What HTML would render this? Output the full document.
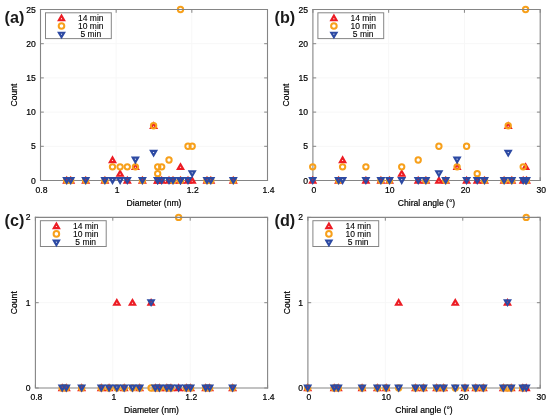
<!DOCTYPE html><html><head><meta charset="utf-8"><style>html,body{margin:0;padding:0;background:#fff;width:550px;height:419px;overflow:hidden}svg{display:block;filter:blur(0.35px)}text{font-family:"Liberation Sans",sans-serif}</style></head><body>
<svg width="550" height="419" viewBox="0 0 550 419">
<rect width="550" height="419" fill="#fff"/>
<line x1="116.17" y1="9.5" x2="116.17" y2="180.5" stroke="#f7f7f7" stroke-width="1"/>
<line x1="191.83" y1="9.5" x2="191.83" y2="180.5" stroke="#f7f7f7" stroke-width="1"/>
<line x1="40.5" y1="146.30" x2="267.5" y2="146.30" stroke="#f7f7f7" stroke-width="1"/>
<line x1="40.5" y1="112.10" x2="267.5" y2="112.10" stroke="#f7f7f7" stroke-width="1"/>
<line x1="40.5" y1="77.90" x2="267.5" y2="77.90" stroke="#f7f7f7" stroke-width="1"/>
<line x1="40.5" y1="43.70" x2="267.5" y2="43.70" stroke="#f7f7f7" stroke-width="1"/>
<path d="M40.5 9.5V180.5H267.5" fill="none" stroke="#858585" stroke-width="1.1" stroke-linecap="square"/>
<line x1="40.50" y1="180.5" x2="40.50" y2="177.2" stroke="#858585" stroke-width="1"/>
<line x1="116.17" y1="180.5" x2="116.17" y2="177.2" stroke="#858585" stroke-width="1"/>
<line x1="191.83" y1="180.5" x2="191.83" y2="177.2" stroke="#858585" stroke-width="1"/>
<line x1="267.50" y1="180.5" x2="267.50" y2="177.2" stroke="#858585" stroke-width="1"/>
<line x1="40.5" y1="180.50" x2="43.8" y2="180.50" stroke="#858585" stroke-width="1"/>
<line x1="40.5" y1="146.30" x2="43.8" y2="146.30" stroke="#858585" stroke-width="1"/>
<line x1="40.5" y1="112.10" x2="43.8" y2="112.10" stroke="#858585" stroke-width="1"/>
<line x1="40.5" y1="77.90" x2="43.8" y2="77.90" stroke="#858585" stroke-width="1"/>
<line x1="40.5" y1="43.70" x2="43.8" y2="43.70" stroke="#858585" stroke-width="1"/>
<line x1="40.5" y1="9.50" x2="43.8" y2="9.50" stroke="#858585" stroke-width="1"/>
<path d="M66.70 175.87L62.20 183.67L71.20 183.67ZM66.70 180.15L65.90 181.53L67.50 181.53Z" fill="#ec1c24" fill-rule="evenodd"/>
<path d="M70.70 175.87L66.20 183.67L75.20 183.67ZM70.70 180.15L69.90 181.53L71.50 181.53Z" fill="#ec1c24" fill-rule="evenodd"/>
<path d="M85.70 175.87L81.20 183.67L90.20 183.67ZM85.70 180.15L84.90 181.53L86.50 181.53Z" fill="#ec1c24" fill-rule="evenodd"/>
<path d="M104.90 175.87L100.40 183.67L109.40 183.67ZM104.90 180.15L104.10 181.53L105.70 181.53Z" fill="#ec1c24" fill-rule="evenodd"/>
<path d="M112.50 155.35L108.00 163.15L117.00 163.15ZM112.50 159.63L111.70 161.01L113.30 161.01Z" fill="#ec1c24" fill-rule="evenodd"/>
<path d="M120.10 169.03L115.60 176.83L124.60 176.83ZM120.10 173.31L119.30 174.69L120.90 174.69Z" fill="#ec1c24" fill-rule="evenodd"/>
<path d="M127.30 175.87L122.80 183.67L131.80 183.67ZM127.30 180.15L126.50 181.53L128.10 181.53Z" fill="#ec1c24" fill-rule="evenodd"/>
<path d="M135.40 162.19L130.90 169.99L139.90 169.99ZM135.40 166.47L134.60 167.85L136.20 167.85Z" fill="#ec1c24" fill-rule="evenodd"/>
<path d="M142.40 175.87L137.90 183.67L146.90 183.67ZM142.40 180.15L141.60 181.53L143.20 181.53Z" fill="#ec1c24" fill-rule="evenodd"/>
<path d="M153.60 121.15L149.10 128.95L158.10 128.95ZM153.60 125.43L152.80 126.81L154.40 126.81Z" fill="#ec1c24" fill-rule="evenodd"/>
<path d="M157.70 175.87L153.20 183.67L162.20 183.67ZM157.70 180.15L156.90 181.53L158.50 181.53Z" fill="#ec1c24" fill-rule="evenodd"/>
<path d="M161.70 175.87L157.20 183.67L166.20 183.67ZM161.70 180.15L160.90 181.53L162.50 181.53Z" fill="#ec1c24" fill-rule="evenodd"/>
<path d="M169.00 175.87L164.50 183.67L173.50 183.67ZM169.00 180.15L168.20 181.53L169.80 181.53Z" fill="#ec1c24" fill-rule="evenodd"/>
<path d="M173.00 175.87L168.50 183.67L177.50 183.67ZM173.00 180.15L172.20 181.53L173.80 181.53Z" fill="#ec1c24" fill-rule="evenodd"/>
<path d="M180.50 162.19L176.00 169.99L185.00 169.99ZM180.50 166.47L179.70 167.85L181.30 167.85Z" fill="#ec1c24" fill-rule="evenodd"/>
<path d="M188.00 175.87L183.50 183.67L192.50 183.67ZM188.00 180.15L187.20 181.53L188.80 181.53Z" fill="#ec1c24" fill-rule="evenodd"/>
<path d="M192.20 175.87L187.70 183.67L196.70 183.67ZM192.20 180.15L191.40 181.53L193.00 181.53Z" fill="#ec1c24" fill-rule="evenodd"/>
<path d="M207.00 175.87L202.50 183.67L211.50 183.67ZM207.00 180.15L206.20 181.53L207.80 181.53Z" fill="#ec1c24" fill-rule="evenodd"/>
<path d="M210.80 175.87L206.30 183.67L215.30 183.67ZM210.80 180.15L210.00 181.53L211.60 181.53Z" fill="#ec1c24" fill-rule="evenodd"/>
<path d="M233.30 175.87L228.80 183.67L237.80 183.67ZM233.30 180.15L232.50 181.53L234.10 181.53Z" fill="#ec1c24" fill-rule="evenodd"/>
<path d="M157.70 175.87L153.20 183.67L162.20 183.67ZM157.70 180.15L156.90 181.53L158.50 181.53Z" fill="#ec1c24" fill-rule="evenodd"/>
<path d="M180.50 175.87L176.00 183.67L185.00 183.67ZM180.50 180.15L179.70 181.53L181.30 181.53Z" fill="#ec1c24" fill-rule="evenodd"/>
<circle cx="66.70" cy="180.50" r="2.68" fill="none" stroke="#f7a01b" stroke-width="2.0"/>
<circle cx="70.70" cy="180.50" r="2.68" fill="none" stroke="#f7a01b" stroke-width="2.0"/>
<circle cx="85.70" cy="180.50" r="2.68" fill="none" stroke="#f7a01b" stroke-width="2.0"/>
<circle cx="104.90" cy="180.50" r="2.68" fill="none" stroke="#f7a01b" stroke-width="2.0"/>
<circle cx="112.50" cy="166.82" r="2.68" fill="none" stroke="#f7a01b" stroke-width="2.0"/>
<circle cx="120.10" cy="166.82" r="2.68" fill="none" stroke="#f7a01b" stroke-width="2.0"/>
<circle cx="127.30" cy="166.82" r="2.68" fill="none" stroke="#f7a01b" stroke-width="2.0"/>
<circle cx="135.40" cy="166.82" r="2.68" fill="none" stroke="#f7a01b" stroke-width="2.0"/>
<circle cx="142.40" cy="180.50" r="2.68" fill="none" stroke="#f7a01b" stroke-width="2.0"/>
<circle cx="153.60" cy="125.78" r="2.68" fill="none" stroke="#f7a01b" stroke-width="2.0"/>
<circle cx="157.70" cy="166.82" r="2.68" fill="none" stroke="#f7a01b" stroke-width="2.0"/>
<circle cx="161.70" cy="166.82" r="2.68" fill="none" stroke="#f7a01b" stroke-width="2.0"/>
<circle cx="169.00" cy="159.98" r="2.68" fill="none" stroke="#f7a01b" stroke-width="2.0"/>
<circle cx="173.00" cy="180.50" r="2.68" fill="none" stroke="#f7a01b" stroke-width="2.0"/>
<circle cx="180.50" cy="9.50" r="2.68" fill="none" stroke="#f7a01b" stroke-width="2.0"/>
<circle cx="188.00" cy="146.30" r="2.68" fill="none" stroke="#f7a01b" stroke-width="2.0"/>
<circle cx="192.20" cy="146.30" r="2.68" fill="none" stroke="#f7a01b" stroke-width="2.0"/>
<circle cx="207.00" cy="180.50" r="2.68" fill="none" stroke="#f7a01b" stroke-width="2.0"/>
<circle cx="210.80" cy="180.50" r="2.68" fill="none" stroke="#f7a01b" stroke-width="2.0"/>
<circle cx="233.30" cy="180.50" r="2.68" fill="none" stroke="#f7a01b" stroke-width="2.0"/>
<circle cx="157.70" cy="173.66" r="2.68" fill="none" stroke="#f7a01b" stroke-width="2.0"/>
<circle cx="180.50" cy="180.50" r="2.68" fill="none" stroke="#f7a01b" stroke-width="2.0"/>
<path d="M66.70 184.90L62.20 177.10L71.20 177.10ZM66.70 180.62L65.90 179.24L67.50 179.24Z" fill="#2d4aa3" fill-rule="evenodd"/>
<path d="M70.70 184.90L66.20 177.10L75.20 177.10ZM70.70 180.62L69.90 179.24L71.50 179.24Z" fill="#2d4aa3" fill-rule="evenodd"/>
<path d="M85.70 184.90L81.20 177.10L90.20 177.10ZM85.70 180.62L84.90 179.24L86.50 179.24Z" fill="#2d4aa3" fill-rule="evenodd"/>
<path d="M104.90 184.90L100.40 177.10L109.40 177.10ZM104.90 180.62L104.10 179.24L105.70 179.24Z" fill="#2d4aa3" fill-rule="evenodd"/>
<path d="M112.50 184.90L108.00 177.10L117.00 177.10ZM112.50 180.62L111.70 179.24L113.30 179.24Z" fill="#2d4aa3" fill-rule="evenodd"/>
<path d="M120.10 184.90L115.60 177.10L124.60 177.10ZM120.10 180.62L119.30 179.24L120.90 179.24Z" fill="#2d4aa3" fill-rule="evenodd"/>
<path d="M127.30 184.90L122.80 177.10L131.80 177.10ZM127.30 180.62L126.50 179.24L128.10 179.24Z" fill="#2d4aa3" fill-rule="evenodd"/>
<path d="M135.40 164.38L130.90 156.58L139.90 156.58ZM135.40 160.10L134.60 158.72L136.20 158.72Z" fill="#2d4aa3" fill-rule="evenodd"/>
<path d="M142.40 184.90L137.90 177.10L146.90 177.10ZM142.40 180.62L141.60 179.24L143.20 179.24Z" fill="#2d4aa3" fill-rule="evenodd"/>
<path d="M153.60 157.54L149.10 149.74L158.10 149.74ZM153.60 153.26L152.80 151.88L154.40 151.88Z" fill="#2d4aa3" fill-rule="evenodd"/>
<path d="M157.70 184.90L153.20 177.10L162.20 177.10ZM157.70 180.62L156.90 179.24L158.50 179.24Z" fill="#2d4aa3" fill-rule="evenodd"/>
<path d="M161.70 184.90L157.20 177.10L166.20 177.10ZM161.70 180.62L160.90 179.24L162.50 179.24Z" fill="#2d4aa3" fill-rule="evenodd"/>
<path d="M169.00 184.90L164.50 177.10L173.50 177.10ZM169.00 180.62L168.20 179.24L169.80 179.24Z" fill="#2d4aa3" fill-rule="evenodd"/>
<path d="M173.00 184.90L168.50 177.10L177.50 177.10ZM173.00 180.62L172.20 179.24L173.80 179.24Z" fill="#2d4aa3" fill-rule="evenodd"/>
<path d="M180.50 184.90L176.00 177.10L185.00 177.10ZM180.50 180.62L179.70 179.24L181.30 179.24Z" fill="#2d4aa3" fill-rule="evenodd"/>
<path d="M188.00 184.90L183.50 177.10L192.50 177.10ZM188.00 180.62L187.20 179.24L188.80 179.24Z" fill="#2d4aa3" fill-rule="evenodd"/>
<path d="M192.20 178.06L187.70 170.26L196.70 170.26ZM192.20 173.78L191.40 172.40L193.00 172.40Z" fill="#2d4aa3" fill-rule="evenodd"/>
<path d="M207.00 184.90L202.50 177.10L211.50 177.10ZM207.00 180.62L206.20 179.24L207.80 179.24Z" fill="#2d4aa3" fill-rule="evenodd"/>
<path d="M210.80 184.90L206.30 177.10L215.30 177.10ZM210.80 180.62L210.00 179.24L211.60 179.24Z" fill="#2d4aa3" fill-rule="evenodd"/>
<path d="M233.30 184.90L228.80 177.10L237.80 177.10ZM233.30 180.62L232.50 179.24L234.10 179.24Z" fill="#2d4aa3" fill-rule="evenodd"/>
<path d="M157.70 184.90L153.20 177.10L162.20 177.10ZM157.70 180.62L156.90 179.24L158.50 179.24Z" fill="#2d4aa3" fill-rule="evenodd"/>
<path d="M180.50 184.90L176.00 177.10L185.00 177.10ZM180.50 180.62L179.70 179.24L181.30 179.24Z" fill="#2d4aa3" fill-rule="evenodd"/>
<path d="M40.5 9.5H267.5V180.5" fill="none" stroke="#858585" stroke-width="1.1" stroke-linecap="square"/>
<line x1="40.50" y1="9.5" x2="40.50" y2="12.8" stroke="#858585" stroke-width="1"/>
<line x1="116.17" y1="9.5" x2="116.17" y2="12.8" stroke="#858585" stroke-width="1"/>
<line x1="191.83" y1="9.5" x2="191.83" y2="12.8" stroke="#858585" stroke-width="1"/>
<line x1="267.50" y1="9.5" x2="267.50" y2="12.8" stroke="#858585" stroke-width="1"/>
<line x1="267.5" y1="180.50" x2="264.2" y2="180.50" stroke="#858585" stroke-width="1"/>
<line x1="267.5" y1="146.30" x2="264.2" y2="146.30" stroke="#858585" stroke-width="1"/>
<line x1="267.5" y1="112.10" x2="264.2" y2="112.10" stroke="#858585" stroke-width="1"/>
<line x1="267.5" y1="77.90" x2="264.2" y2="77.90" stroke="#858585" stroke-width="1"/>
<line x1="267.5" y1="43.70" x2="264.2" y2="43.70" stroke="#858585" stroke-width="1"/>
<line x1="267.5" y1="9.50" x2="264.2" y2="9.50" stroke="#858585" stroke-width="1"/>
<text x="41.50" y="192.50" font-size="8.6" text-anchor="middle" font-weight="normal" fill="#000000" stroke="#000000" stroke-width="0.2">0.8</text>
<text x="117.17" y="192.50" font-size="8.6" text-anchor="middle" font-weight="normal" fill="#000000" stroke="#000000" stroke-width="0.2">1</text>
<text x="192.83" y="192.50" font-size="8.6" text-anchor="middle" font-weight="normal" fill="#000000" stroke="#000000" stroke-width="0.2">1.2</text>
<text x="268.50" y="192.50" font-size="8.6" text-anchor="middle" font-weight="normal" fill="#000000" stroke="#000000" stroke-width="0.2">1.4</text>
<text x="35.70" y="183.50" font-size="8.6" text-anchor="end" font-weight="normal" fill="#000000" stroke="#000000" stroke-width="0.2">0</text>
<text x="35.70" y="149.30" font-size="8.6" text-anchor="end" font-weight="normal" fill="#000000" stroke="#000000" stroke-width="0.2">5</text>
<text x="35.70" y="115.10" font-size="8.6" text-anchor="end" font-weight="normal" fill="#000000" stroke="#000000" stroke-width="0.2">10</text>
<text x="35.70" y="80.90" font-size="8.6" text-anchor="end" font-weight="normal" fill="#000000" stroke="#000000" stroke-width="0.2">15</text>
<text x="35.70" y="46.70" font-size="8.6" text-anchor="end" font-weight="normal" fill="#000000" stroke="#000000" stroke-width="0.2">20</text>
<text x="35.70" y="12.50" font-size="8.6" text-anchor="end" font-weight="normal" fill="#000000" stroke="#000000" stroke-width="0.2">25</text>
<text x="154.00" y="205.70" font-size="8.6" text-anchor="middle" font-weight="normal" fill="#000000" stroke="#000000" stroke-width="0.2">Diameter (nm)</text>
<text x="0" y="0" font-size="8.6" text-anchor="middle" fill="#000000" stroke="#000000" stroke-width="0.2" transform="translate(16.90,95.00) rotate(-90)">Count</text>
<text x="4.50" y="22.80" font-size="16.2" text-anchor="start" font-weight="bold" fill="#1a1a1a" stroke="#1a1a1a" stroke-width="0">(a)</text>
<rect x="45.50" y="12.80" width="65.8" height="25.8" fill="#fff" stroke="#858585" stroke-width="1"/>
<path d="M61.50 13.56L57.05 21.27L65.95 21.27ZM61.50 17.78L60.70 19.16L62.30 19.16Z" fill="#ec1c24" fill-rule="evenodd"/>
<circle cx="61.50" cy="26.00" r="2.8" fill="none" stroke="#f7a01b" stroke-width="2.0"/>
<path d="M61.50 39.34L57.05 31.63L65.95 31.63ZM61.50 35.12L60.70 33.74L62.30 33.74Z" fill="#2d4aa3" fill-rule="evenodd"/>
<text x="90.80" y="20.80" font-size="8.5" text-anchor="middle" font-weight="normal" fill="#000000" stroke="#000000" stroke-width="0.1">14 min</text>
<text x="90.80" y="29.10" font-size="8.5" text-anchor="middle" font-weight="normal" fill="#000000" stroke="#000000" stroke-width="0.1">10 min</text>
<text x="90.80" y="37.40" font-size="8.5" text-anchor="middle" font-weight="normal" fill="#000000" stroke="#000000" stroke-width="0.1">5 min</text>
<line x1="388.67" y1="9.5" x2="388.67" y2="180.5" stroke="#f7f7f7" stroke-width="1"/>
<line x1="464.43" y1="9.5" x2="464.43" y2="180.5" stroke="#f7f7f7" stroke-width="1"/>
<line x1="312.9" y1="146.30" x2="540.2" y2="146.30" stroke="#f7f7f7" stroke-width="1"/>
<line x1="312.9" y1="112.10" x2="540.2" y2="112.10" stroke="#f7f7f7" stroke-width="1"/>
<line x1="312.9" y1="77.90" x2="540.2" y2="77.90" stroke="#f7f7f7" stroke-width="1"/>
<line x1="312.9" y1="43.70" x2="540.2" y2="43.70" stroke="#f7f7f7" stroke-width="1"/>
<path d="M312.9 9.5V180.5H540.2" fill="none" stroke="#858585" stroke-width="1.1" stroke-linecap="square"/>
<line x1="312.90" y1="180.5" x2="312.90" y2="177.2" stroke="#858585" stroke-width="1"/>
<line x1="388.67" y1="180.5" x2="388.67" y2="177.2" stroke="#858585" stroke-width="1"/>
<line x1="464.43" y1="180.5" x2="464.43" y2="177.2" stroke="#858585" stroke-width="1"/>
<line x1="540.20" y1="180.5" x2="540.20" y2="177.2" stroke="#858585" stroke-width="1"/>
<line x1="312.9" y1="180.50" x2="316.2" y2="180.50" stroke="#858585" stroke-width="1"/>
<line x1="312.9" y1="146.30" x2="316.2" y2="146.30" stroke="#858585" stroke-width="1"/>
<line x1="312.9" y1="112.10" x2="316.2" y2="112.10" stroke="#858585" stroke-width="1"/>
<line x1="312.9" y1="77.90" x2="316.2" y2="77.90" stroke="#858585" stroke-width="1"/>
<line x1="312.9" y1="43.70" x2="316.2" y2="43.70" stroke="#858585" stroke-width="1"/>
<line x1="312.9" y1="9.50" x2="316.2" y2="9.50" stroke="#858585" stroke-width="1"/>
<path d="M312.70 175.87L308.20 183.67L317.20 183.67ZM312.70 180.15L311.90 181.53L313.50 181.53Z" fill="#ec1c24" fill-rule="evenodd"/>
<path d="M338.60 175.87L334.10 183.67L343.10 183.67ZM338.60 180.15L337.80 181.53L339.40 181.53Z" fill="#ec1c24" fill-rule="evenodd"/>
<path d="M342.60 155.35L338.10 163.15L347.10 163.15ZM342.60 159.63L341.80 161.01L343.40 161.01Z" fill="#ec1c24" fill-rule="evenodd"/>
<path d="M365.90 175.87L361.40 183.67L370.40 183.67ZM365.90 180.15L365.10 181.53L366.70 181.53Z" fill="#ec1c24" fill-rule="evenodd"/>
<path d="M380.90 175.87L376.40 183.67L385.40 183.67ZM380.90 180.15L380.10 181.53L381.70 181.53Z" fill="#ec1c24" fill-rule="evenodd"/>
<path d="M389.50 175.87L385.00 183.67L394.00 183.67ZM389.50 180.15L388.70 181.53L390.30 181.53Z" fill="#ec1c24" fill-rule="evenodd"/>
<path d="M401.70 169.03L397.20 176.83L406.20 176.83ZM401.70 173.31L400.90 174.69L402.50 174.69Z" fill="#ec1c24" fill-rule="evenodd"/>
<path d="M418.20 175.87L413.70 183.67L422.70 183.67ZM418.20 180.15L417.40 181.53L419.00 181.53Z" fill="#ec1c24" fill-rule="evenodd"/>
<path d="M425.90 175.87L421.40 183.67L430.40 183.67ZM425.90 180.15L425.10 181.53L426.70 181.53Z" fill="#ec1c24" fill-rule="evenodd"/>
<path d="M438.90 175.87L434.40 183.67L443.40 183.67ZM438.90 180.15L438.10 181.53L439.70 181.53Z" fill="#ec1c24" fill-rule="evenodd"/>
<path d="M445.70 175.87L441.20 183.67L450.20 183.67ZM445.70 180.15L444.90 181.53L446.50 181.53Z" fill="#ec1c24" fill-rule="evenodd"/>
<path d="M457.10 162.19L452.60 169.99L461.60 169.99ZM457.10 166.47L456.30 167.85L457.90 167.85Z" fill="#ec1c24" fill-rule="evenodd"/>
<path d="M466.60 175.87L462.10 183.67L471.10 183.67ZM466.60 180.15L465.80 181.53L467.40 181.53Z" fill="#ec1c24" fill-rule="evenodd"/>
<path d="M477.20 175.87L472.70 183.67L481.70 183.67ZM477.20 180.15L476.40 181.53L478.00 181.53Z" fill="#ec1c24" fill-rule="evenodd"/>
<path d="M484.50 175.87L480.00 183.67L489.00 183.67ZM484.50 180.15L483.70 181.53L485.30 181.53Z" fill="#ec1c24" fill-rule="evenodd"/>
<path d="M504.10 175.87L499.60 183.67L508.60 183.67ZM504.10 180.15L503.30 181.53L504.90 181.53Z" fill="#ec1c24" fill-rule="evenodd"/>
<path d="M508.20 121.15L503.70 128.95L512.70 128.95ZM508.20 125.43L507.40 126.81L509.00 126.81Z" fill="#ec1c24" fill-rule="evenodd"/>
<path d="M511.80 175.87L507.30 183.67L516.30 183.67ZM511.80 180.15L511.00 181.53L512.60 181.53Z" fill="#ec1c24" fill-rule="evenodd"/>
<path d="M523.20 175.87L518.70 183.67L527.70 183.67ZM523.20 180.15L522.40 181.53L524.00 181.53Z" fill="#ec1c24" fill-rule="evenodd"/>
<path d="M526.50 175.87L522.00 183.67L531.00 183.67ZM526.50 180.15L525.70 181.53L527.30 181.53Z" fill="#ec1c24" fill-rule="evenodd"/>
<path d="M525.60 162.19L521.10 169.99L530.10 169.99ZM525.60 166.47L524.80 167.85L526.40 167.85Z" fill="#ec1c24" fill-rule="evenodd"/>
<circle cx="312.70" cy="166.82" r="2.68" fill="none" stroke="#f7a01b" stroke-width="2.0"/>
<circle cx="338.60" cy="180.50" r="2.68" fill="none" stroke="#f7a01b" stroke-width="2.0"/>
<circle cx="342.60" cy="166.82" r="2.68" fill="none" stroke="#f7a01b" stroke-width="2.0"/>
<circle cx="365.90" cy="166.82" r="2.68" fill="none" stroke="#f7a01b" stroke-width="2.0"/>
<circle cx="380.90" cy="180.50" r="2.68" fill="none" stroke="#f7a01b" stroke-width="2.0"/>
<circle cx="389.50" cy="180.50" r="2.68" fill="none" stroke="#f7a01b" stroke-width="2.0"/>
<circle cx="401.70" cy="166.82" r="2.68" fill="none" stroke="#f7a01b" stroke-width="2.0"/>
<circle cx="418.20" cy="159.98" r="2.68" fill="none" stroke="#f7a01b" stroke-width="2.0"/>
<circle cx="425.90" cy="180.50" r="2.68" fill="none" stroke="#f7a01b" stroke-width="2.0"/>
<circle cx="438.90" cy="146.30" r="2.68" fill="none" stroke="#f7a01b" stroke-width="2.0"/>
<circle cx="445.70" cy="180.50" r="2.68" fill="none" stroke="#f7a01b" stroke-width="2.0"/>
<circle cx="457.10" cy="166.82" r="2.68" fill="none" stroke="#f7a01b" stroke-width="2.0"/>
<circle cx="466.60" cy="146.30" r="2.68" fill="none" stroke="#f7a01b" stroke-width="2.0"/>
<circle cx="477.20" cy="173.66" r="2.68" fill="none" stroke="#f7a01b" stroke-width="2.0"/>
<circle cx="484.50" cy="180.50" r="2.68" fill="none" stroke="#f7a01b" stroke-width="2.0"/>
<circle cx="504.10" cy="180.50" r="2.68" fill="none" stroke="#f7a01b" stroke-width="2.0"/>
<circle cx="508.20" cy="125.78" r="2.68" fill="none" stroke="#f7a01b" stroke-width="2.0"/>
<circle cx="511.80" cy="180.50" r="2.68" fill="none" stroke="#f7a01b" stroke-width="2.0"/>
<circle cx="523.20" cy="166.82" r="2.68" fill="none" stroke="#f7a01b" stroke-width="2.0"/>
<circle cx="526.50" cy="180.50" r="2.68" fill="none" stroke="#f7a01b" stroke-width="2.0"/>
<circle cx="525.60" cy="9.50" r="2.68" fill="none" stroke="#f7a01b" stroke-width="2.0"/>
<path d="M312.70 184.90L308.20 177.10L317.20 177.10ZM312.70 180.62L311.90 179.24L313.50 179.24Z" fill="#2d4aa3" fill-rule="evenodd"/>
<path d="M338.60 184.90L334.10 177.10L343.10 177.10ZM338.60 180.62L337.80 179.24L339.40 179.24Z" fill="#2d4aa3" fill-rule="evenodd"/>
<path d="M342.60 184.90L338.10 177.10L347.10 177.10ZM342.60 180.62L341.80 179.24L343.40 179.24Z" fill="#2d4aa3" fill-rule="evenodd"/>
<path d="M365.90 184.90L361.40 177.10L370.40 177.10ZM365.90 180.62L365.10 179.24L366.70 179.24Z" fill="#2d4aa3" fill-rule="evenodd"/>
<path d="M380.90 184.90L376.40 177.10L385.40 177.10ZM380.90 180.62L380.10 179.24L381.70 179.24Z" fill="#2d4aa3" fill-rule="evenodd"/>
<path d="M389.50 184.90L385.00 177.10L394.00 177.10ZM389.50 180.62L388.70 179.24L390.30 179.24Z" fill="#2d4aa3" fill-rule="evenodd"/>
<path d="M401.70 184.90L397.20 177.10L406.20 177.10ZM401.70 180.62L400.90 179.24L402.50 179.24Z" fill="#2d4aa3" fill-rule="evenodd"/>
<path d="M418.20 184.90L413.70 177.10L422.70 177.10ZM418.20 180.62L417.40 179.24L419.00 179.24Z" fill="#2d4aa3" fill-rule="evenodd"/>
<path d="M425.90 184.90L421.40 177.10L430.40 177.10ZM425.90 180.62L425.10 179.24L426.70 179.24Z" fill="#2d4aa3" fill-rule="evenodd"/>
<path d="M438.90 178.06L434.40 170.26L443.40 170.26ZM438.90 173.78L438.10 172.40L439.70 172.40Z" fill="#2d4aa3" fill-rule="evenodd"/>
<path d="M445.70 184.90L441.20 177.10L450.20 177.10ZM445.70 180.62L444.90 179.24L446.50 179.24Z" fill="#2d4aa3" fill-rule="evenodd"/>
<path d="M457.10 164.38L452.60 156.58L461.60 156.58ZM457.10 160.10L456.30 158.72L457.90 158.72Z" fill="#2d4aa3" fill-rule="evenodd"/>
<path d="M466.60 184.90L462.10 177.10L471.10 177.10ZM466.60 180.62L465.80 179.24L467.40 179.24Z" fill="#2d4aa3" fill-rule="evenodd"/>
<path d="M477.20 184.90L472.70 177.10L481.70 177.10ZM477.20 180.62L476.40 179.24L478.00 179.24Z" fill="#2d4aa3" fill-rule="evenodd"/>
<path d="M484.50 184.90L480.00 177.10L489.00 177.10ZM484.50 180.62L483.70 179.24L485.30 179.24Z" fill="#2d4aa3" fill-rule="evenodd"/>
<path d="M504.10 184.90L499.60 177.10L508.60 177.10ZM504.10 180.62L503.30 179.24L504.90 179.24Z" fill="#2d4aa3" fill-rule="evenodd"/>
<path d="M508.20 157.54L503.70 149.74L512.70 149.74ZM508.20 153.26L507.40 151.88L509.00 151.88Z" fill="#2d4aa3" fill-rule="evenodd"/>
<path d="M511.80 184.90L507.30 177.10L516.30 177.10ZM511.80 180.62L511.00 179.24L512.60 179.24Z" fill="#2d4aa3" fill-rule="evenodd"/>
<path d="M523.20 184.90L518.70 177.10L527.70 177.10ZM523.20 180.62L522.40 179.24L524.00 179.24Z" fill="#2d4aa3" fill-rule="evenodd"/>
<path d="M526.50 184.90L522.00 177.10L531.00 177.10ZM526.50 180.62L525.70 179.24L527.30 179.24Z" fill="#2d4aa3" fill-rule="evenodd"/>
<path d="M525.60 184.90L521.10 177.10L530.10 177.10ZM525.60 180.62L524.80 179.24L526.40 179.24Z" fill="#2d4aa3" fill-rule="evenodd"/>
<path d="M312.9 9.5H540.2V180.5" fill="none" stroke="#858585" stroke-width="1.1" stroke-linecap="square"/>
<line x1="312.90" y1="9.5" x2="312.90" y2="12.8" stroke="#858585" stroke-width="1"/>
<line x1="388.67" y1="9.5" x2="388.67" y2="12.8" stroke="#858585" stroke-width="1"/>
<line x1="464.43" y1="9.5" x2="464.43" y2="12.8" stroke="#858585" stroke-width="1"/>
<line x1="540.20" y1="9.5" x2="540.20" y2="12.8" stroke="#858585" stroke-width="1"/>
<line x1="540.2" y1="180.50" x2="536.9000000000001" y2="180.50" stroke="#858585" stroke-width="1"/>
<line x1="540.2" y1="146.30" x2="536.9000000000001" y2="146.30" stroke="#858585" stroke-width="1"/>
<line x1="540.2" y1="112.10" x2="536.9000000000001" y2="112.10" stroke="#858585" stroke-width="1"/>
<line x1="540.2" y1="77.90" x2="536.9000000000001" y2="77.90" stroke="#858585" stroke-width="1"/>
<line x1="540.2" y1="43.70" x2="536.9000000000001" y2="43.70" stroke="#858585" stroke-width="1"/>
<line x1="540.2" y1="9.50" x2="536.9000000000001" y2="9.50" stroke="#858585" stroke-width="1"/>
<text x="313.90" y="192.50" font-size="8.6" text-anchor="middle" font-weight="normal" fill="#000000" stroke="#000000" stroke-width="0.2">0</text>
<text x="389.67" y="192.50" font-size="8.6" text-anchor="middle" font-weight="normal" fill="#000000" stroke="#000000" stroke-width="0.2">10</text>
<text x="465.43" y="192.50" font-size="8.6" text-anchor="middle" font-weight="normal" fill="#000000" stroke="#000000" stroke-width="0.2">20</text>
<text x="541.20" y="192.50" font-size="8.6" text-anchor="middle" font-weight="normal" fill="#000000" stroke="#000000" stroke-width="0.2">30</text>
<text x="308.10" y="183.50" font-size="8.6" text-anchor="end" font-weight="normal" fill="#000000" stroke="#000000" stroke-width="0.2">0</text>
<text x="308.10" y="149.30" font-size="8.6" text-anchor="end" font-weight="normal" fill="#000000" stroke="#000000" stroke-width="0.2">5</text>
<text x="308.10" y="115.10" font-size="8.6" text-anchor="end" font-weight="normal" fill="#000000" stroke="#000000" stroke-width="0.2">10</text>
<text x="308.10" y="80.90" font-size="8.6" text-anchor="end" font-weight="normal" fill="#000000" stroke="#000000" stroke-width="0.2">15</text>
<text x="308.10" y="46.70" font-size="8.6" text-anchor="end" font-weight="normal" fill="#000000" stroke="#000000" stroke-width="0.2">20</text>
<text x="308.10" y="12.50" font-size="8.6" text-anchor="end" font-weight="normal" fill="#000000" stroke="#000000" stroke-width="0.2">25</text>
<text x="426.55" y="205.70" font-size="8.6" text-anchor="middle" font-weight="normal" fill="#000000" stroke="#000000" stroke-width="0.2">Chiral angle (°)</text>
<text x="0" y="0" font-size="8.6" text-anchor="middle" fill="#000000" stroke="#000000" stroke-width="0.2" transform="translate(289.30,95.00) rotate(-90)">Count</text>
<text x="274.50" y="22.80" font-size="16.2" text-anchor="start" font-weight="bold" fill="#1a1a1a" stroke="#1a1a1a" stroke-width="0">(b)</text>
<rect x="317.90" y="12.80" width="65.8" height="25.8" fill="#fff" stroke="#858585" stroke-width="1"/>
<path d="M333.90 13.56L329.45 21.27L338.35 21.27ZM333.90 17.78L333.10 19.16L334.70 19.16Z" fill="#ec1c24" fill-rule="evenodd"/>
<circle cx="333.90" cy="26.00" r="2.8" fill="none" stroke="#f7a01b" stroke-width="2.0"/>
<path d="M333.90 39.34L329.45 31.63L338.35 31.63ZM333.90 35.12L333.10 33.74L334.70 33.74Z" fill="#2d4aa3" fill-rule="evenodd"/>
<text x="363.20" y="20.80" font-size="8.5" text-anchor="middle" font-weight="normal" fill="#000000" stroke="#000000" stroke-width="0.1">14 min</text>
<text x="363.20" y="29.10" font-size="8.5" text-anchor="middle" font-weight="normal" fill="#000000" stroke="#000000" stroke-width="0.1">10 min</text>
<text x="363.20" y="37.40" font-size="8.5" text-anchor="middle" font-weight="normal" fill="#000000" stroke="#000000" stroke-width="0.1">5 min</text>
<line x1="112.80" y1="217.4" x2="112.80" y2="388.0" stroke="#f7f7f7" stroke-width="1"/>
<line x1="190.20" y1="217.4" x2="190.20" y2="388.0" stroke="#f7f7f7" stroke-width="1"/>
<line x1="35.4" y1="302.70" x2="267.6" y2="302.70" stroke="#f7f7f7" stroke-width="1"/>
<path d="M35.4 217.4V388.0H267.6" fill="none" stroke="#858585" stroke-width="1.1" stroke-linecap="square"/>
<line x1="35.40" y1="388.0" x2="35.40" y2="384.7" stroke="#858585" stroke-width="1"/>
<line x1="112.80" y1="388.0" x2="112.80" y2="384.7" stroke="#858585" stroke-width="1"/>
<line x1="190.20" y1="388.0" x2="190.20" y2="384.7" stroke="#858585" stroke-width="1"/>
<line x1="267.60" y1="388.0" x2="267.60" y2="384.7" stroke="#858585" stroke-width="1"/>
<line x1="35.4" y1="388.00" x2="38.699999999999996" y2="388.00" stroke="#858585" stroke-width="1"/>
<line x1="35.4" y1="302.70" x2="38.699999999999996" y2="302.70" stroke="#858585" stroke-width="1"/>
<line x1="35.4" y1="217.40" x2="38.699999999999996" y2="217.40" stroke="#858585" stroke-width="1"/>
<path d="M62.20 383.37L57.70 391.17L66.70 391.17ZM62.20 387.65L61.40 389.03L63.00 389.03Z" fill="#ec1c24" fill-rule="evenodd"/>
<path d="M66.29 383.37L61.79 391.17L70.79 391.17ZM66.29 387.65L65.49 389.03L67.09 389.03Z" fill="#ec1c24" fill-rule="evenodd"/>
<path d="M81.64 383.37L77.14 391.17L86.14 391.17ZM81.64 387.65L80.84 389.03L82.44 389.03Z" fill="#ec1c24" fill-rule="evenodd"/>
<path d="M101.28 383.37L96.78 391.17L105.78 391.17ZM101.28 387.65L100.48 389.03L102.08 389.03Z" fill="#ec1c24" fill-rule="evenodd"/>
<path d="M109.05 383.37L104.55 391.17L113.55 391.17ZM109.05 387.65L108.25 389.03L109.85 389.03Z" fill="#ec1c24" fill-rule="evenodd"/>
<path d="M116.82 298.07L112.32 305.87L121.32 305.87ZM116.82 302.35L116.02 303.73L117.62 303.73Z" fill="#ec1c24" fill-rule="evenodd"/>
<path d="M124.19 383.37L119.69 391.17L128.69 391.17ZM124.19 387.65L123.39 389.03L124.99 389.03Z" fill="#ec1c24" fill-rule="evenodd"/>
<path d="M132.47 298.07L127.97 305.87L136.97 305.87ZM132.47 302.35L131.67 303.73L133.27 303.73Z" fill="#ec1c24" fill-rule="evenodd"/>
<path d="M139.63 383.37L135.13 391.17L144.13 391.17ZM139.63 387.65L138.83 389.03L140.43 389.03Z" fill="#ec1c24" fill-rule="evenodd"/>
<path d="M151.09 298.07L146.59 305.87L155.59 305.87ZM151.09 302.35L150.29 303.73L151.89 303.73Z" fill="#ec1c24" fill-rule="evenodd"/>
<path d="M155.28 383.37L150.78 391.17L159.78 391.17ZM155.28 387.65L154.48 389.03L156.08 389.03Z" fill="#ec1c24" fill-rule="evenodd"/>
<path d="M159.38 383.37L154.88 391.17L163.88 391.17ZM159.38 387.65L158.58 389.03L160.18 389.03Z" fill="#ec1c24" fill-rule="evenodd"/>
<path d="M166.84 383.37L162.34 391.17L171.34 391.17ZM166.84 387.65L166.04 389.03L167.64 389.03Z" fill="#ec1c24" fill-rule="evenodd"/>
<path d="M170.94 383.37L166.44 391.17L175.44 391.17ZM170.94 387.65L170.14 389.03L171.74 389.03Z" fill="#ec1c24" fill-rule="evenodd"/>
<path d="M178.61 383.37L174.11 391.17L183.11 391.17ZM178.61 387.65L177.81 389.03L179.41 389.03Z" fill="#ec1c24" fill-rule="evenodd"/>
<path d="M186.28 383.37L181.78 391.17L190.78 391.17ZM186.28 387.65L185.48 389.03L187.08 389.03Z" fill="#ec1c24" fill-rule="evenodd"/>
<path d="M190.58 383.37L186.08 391.17L195.08 391.17ZM190.58 387.65L189.78 389.03L191.38 389.03Z" fill="#ec1c24" fill-rule="evenodd"/>
<path d="M205.71 383.37L201.21 391.17L210.21 391.17ZM205.71 387.65L204.91 389.03L206.51 389.03Z" fill="#ec1c24" fill-rule="evenodd"/>
<path d="M209.60 383.37L205.10 391.17L214.10 391.17ZM209.60 387.65L208.80 389.03L210.40 389.03Z" fill="#ec1c24" fill-rule="evenodd"/>
<path d="M232.62 383.37L228.12 391.17L237.12 391.17ZM232.62 387.65L231.82 389.03L233.42 389.03Z" fill="#ec1c24" fill-rule="evenodd"/>
<circle cx="62.20" cy="388.00" r="2.68" fill="none" stroke="#f7a01b" stroke-width="2.0"/>
<circle cx="66.29" cy="388.00" r="2.68" fill="none" stroke="#f7a01b" stroke-width="2.0"/>
<circle cx="81.64" cy="388.00" r="2.68" fill="none" stroke="#f7a01b" stroke-width="2.0"/>
<circle cx="101.28" cy="388.00" r="2.68" fill="none" stroke="#f7a01b" stroke-width="2.0"/>
<circle cx="109.05" cy="388.00" r="2.68" fill="none" stroke="#f7a01b" stroke-width="2.0"/>
<circle cx="116.82" cy="388.00" r="2.68" fill="none" stroke="#f7a01b" stroke-width="2.0"/>
<circle cx="124.19" cy="388.00" r="2.68" fill="none" stroke="#f7a01b" stroke-width="2.0"/>
<circle cx="132.47" cy="388.00" r="2.68" fill="none" stroke="#f7a01b" stroke-width="2.0"/>
<circle cx="139.63" cy="388.00" r="2.68" fill="none" stroke="#f7a01b" stroke-width="2.0"/>
<circle cx="151.09" cy="388.00" r="2.68" fill="none" stroke="#f7a01b" stroke-width="2.0"/>
<circle cx="155.28" cy="388.00" r="2.68" fill="none" stroke="#f7a01b" stroke-width="2.0"/>
<circle cx="159.38" cy="388.00" r="2.68" fill="none" stroke="#f7a01b" stroke-width="2.0"/>
<circle cx="166.84" cy="388.00" r="2.68" fill="none" stroke="#f7a01b" stroke-width="2.0"/>
<circle cx="170.94" cy="388.00" r="2.68" fill="none" stroke="#f7a01b" stroke-width="2.0"/>
<circle cx="178.61" cy="217.40" r="2.68" fill="none" stroke="#f7a01b" stroke-width="2.0"/>
<circle cx="186.28" cy="388.00" r="2.68" fill="none" stroke="#f7a01b" stroke-width="2.0"/>
<circle cx="190.58" cy="388.00" r="2.68" fill="none" stroke="#f7a01b" stroke-width="2.0"/>
<circle cx="205.71" cy="388.00" r="2.68" fill="none" stroke="#f7a01b" stroke-width="2.0"/>
<circle cx="209.60" cy="388.00" r="2.68" fill="none" stroke="#f7a01b" stroke-width="2.0"/>
<circle cx="232.62" cy="388.00" r="2.68" fill="none" stroke="#f7a01b" stroke-width="2.0"/>
<path d="M62.20 392.40L57.70 384.60L66.70 384.60ZM62.20 388.12L61.40 386.74L63.00 386.74Z" fill="#2d4aa3" fill-rule="evenodd"/>
<path d="M66.29 392.40L61.79 384.60L70.79 384.60ZM66.29 388.12L65.49 386.74L67.09 386.74Z" fill="#2d4aa3" fill-rule="evenodd"/>
<path d="M81.64 392.40L77.14 384.60L86.14 384.60ZM81.64 388.12L80.84 386.74L82.44 386.74Z" fill="#2d4aa3" fill-rule="evenodd"/>
<path d="M101.28 392.40L96.78 384.60L105.78 384.60ZM101.28 388.12L100.48 386.74L102.08 386.74Z" fill="#2d4aa3" fill-rule="evenodd"/>
<path d="M109.05 392.40L104.55 384.60L113.55 384.60ZM109.05 388.12L108.25 386.74L109.85 386.74Z" fill="#2d4aa3" fill-rule="evenodd"/>
<path d="M116.82 392.40L112.32 384.60L121.32 384.60ZM116.82 388.12L116.02 386.74L117.62 386.74Z" fill="#2d4aa3" fill-rule="evenodd"/>
<path d="M124.19 392.40L119.69 384.60L128.69 384.60ZM124.19 388.12L123.39 386.74L124.99 386.74Z" fill="#2d4aa3" fill-rule="evenodd"/>
<path d="M132.47 392.40L127.97 384.60L136.97 384.60ZM132.47 388.12L131.67 386.74L133.27 386.74Z" fill="#2d4aa3" fill-rule="evenodd"/>
<path d="M139.63 392.40L135.13 384.60L144.13 384.60ZM139.63 388.12L138.83 386.74L140.43 386.74Z" fill="#2d4aa3" fill-rule="evenodd"/>
<path d="M151.09 307.10L146.59 299.30L155.59 299.30ZM151.09 302.82L150.29 301.44L151.89 301.44Z" fill="#2d4aa3" fill-rule="evenodd"/>
<path d="M155.28 392.40L150.78 384.60L159.78 384.60ZM155.28 388.12L154.48 386.74L156.08 386.74Z" fill="#2d4aa3" fill-rule="evenodd"/>
<path d="M159.38 392.40L154.88 384.60L163.88 384.60ZM159.38 388.12L158.58 386.74L160.18 386.74Z" fill="#2d4aa3" fill-rule="evenodd"/>
<path d="M166.84 392.40L162.34 384.60L171.34 384.60ZM166.84 388.12L166.04 386.74L167.64 386.74Z" fill="#2d4aa3" fill-rule="evenodd"/>
<path d="M170.94 392.40L166.44 384.60L175.44 384.60ZM170.94 388.12L170.14 386.74L171.74 386.74Z" fill="#2d4aa3" fill-rule="evenodd"/>
<path d="M178.61 392.40L174.11 384.60L183.11 384.60ZM178.61 388.12L177.81 386.74L179.41 386.74Z" fill="#2d4aa3" fill-rule="evenodd"/>
<path d="M186.28 392.40L181.78 384.60L190.78 384.60ZM186.28 388.12L185.48 386.74L187.08 386.74Z" fill="#2d4aa3" fill-rule="evenodd"/>
<path d="M190.58 392.40L186.08 384.60L195.08 384.60ZM190.58 388.12L189.78 386.74L191.38 386.74Z" fill="#2d4aa3" fill-rule="evenodd"/>
<path d="M205.71 392.40L201.21 384.60L210.21 384.60ZM205.71 388.12L204.91 386.74L206.51 386.74Z" fill="#2d4aa3" fill-rule="evenodd"/>
<path d="M209.60 392.40L205.10 384.60L214.10 384.60ZM209.60 388.12L208.80 386.74L210.40 386.74Z" fill="#2d4aa3" fill-rule="evenodd"/>
<path d="M232.62 392.40L228.12 384.60L237.12 384.60ZM232.62 388.12L231.82 386.74L233.42 386.74Z" fill="#2d4aa3" fill-rule="evenodd"/>
<path d="M35.4 217.4H267.6V388.0" fill="none" stroke="#858585" stroke-width="1.1" stroke-linecap="square"/>
<line x1="35.40" y1="217.4" x2="35.40" y2="220.70000000000002" stroke="#858585" stroke-width="1"/>
<line x1="112.80" y1="217.4" x2="112.80" y2="220.70000000000002" stroke="#858585" stroke-width="1"/>
<line x1="190.20" y1="217.4" x2="190.20" y2="220.70000000000002" stroke="#858585" stroke-width="1"/>
<line x1="267.60" y1="217.4" x2="267.60" y2="220.70000000000002" stroke="#858585" stroke-width="1"/>
<line x1="267.6" y1="388.00" x2="264.3" y2="388.00" stroke="#858585" stroke-width="1"/>
<line x1="267.6" y1="302.70" x2="264.3" y2="302.70" stroke="#858585" stroke-width="1"/>
<line x1="267.6" y1="217.40" x2="264.3" y2="217.40" stroke="#858585" stroke-width="1"/>
<text x="36.40" y="400.00" font-size="8.6" text-anchor="middle" font-weight="normal" fill="#000000" stroke="#000000" stroke-width="0.2">0.8</text>
<text x="113.80" y="400.00" font-size="8.6" text-anchor="middle" font-weight="normal" fill="#000000" stroke="#000000" stroke-width="0.2">1</text>
<text x="191.20" y="400.00" font-size="8.6" text-anchor="middle" font-weight="normal" fill="#000000" stroke="#000000" stroke-width="0.2">1.2</text>
<text x="268.60" y="400.00" font-size="8.6" text-anchor="middle" font-weight="normal" fill="#000000" stroke="#000000" stroke-width="0.2">1.4</text>
<text x="30.60" y="391.00" font-size="8.6" text-anchor="end" font-weight="normal" fill="#000000" stroke="#000000" stroke-width="0.2">0</text>
<text x="30.60" y="305.70" font-size="8.6" text-anchor="end" font-weight="normal" fill="#000000" stroke="#000000" stroke-width="0.2">1</text>
<text x="30.60" y="220.40" font-size="8.6" text-anchor="end" font-weight="normal" fill="#000000" stroke="#000000" stroke-width="0.2">2</text>
<text x="151.50" y="413.20" font-size="8.6" text-anchor="middle" font-weight="normal" fill="#000000" stroke="#000000" stroke-width="0.2">Diameter (nm)</text>
<text x="0" y="0" font-size="8.6" text-anchor="middle" fill="#000000" stroke="#000000" stroke-width="0.2" transform="translate(17.20,302.70) rotate(-90)">Count</text>
<text x="4.50" y="226.00" font-size="16.2" text-anchor="start" font-weight="bold" fill="#1a1a1a" stroke="#1a1a1a" stroke-width="0">(c)</text>
<rect x="40.40" y="220.70" width="65.8" height="25.8" fill="#fff" stroke="#858585" stroke-width="1"/>
<path d="M56.40 221.46L51.95 229.17L60.85 229.17ZM56.40 225.68L55.60 227.06L57.20 227.06Z" fill="#ec1c24" fill-rule="evenodd"/>
<circle cx="56.40" cy="233.90" r="2.8" fill="none" stroke="#f7a01b" stroke-width="2.0"/>
<path d="M56.40 247.24L51.95 239.53L60.85 239.53ZM56.40 243.02L55.60 241.64L57.20 241.64Z" fill="#2d4aa3" fill-rule="evenodd"/>
<text x="85.70" y="228.70" font-size="8.5" text-anchor="middle" font-weight="normal" fill="#000000" stroke="#000000" stroke-width="0.1">14 min</text>
<text x="85.70" y="237.00" font-size="8.5" text-anchor="middle" font-weight="normal" fill="#000000" stroke="#000000" stroke-width="0.1">10 min</text>
<text x="85.70" y="245.30" font-size="8.5" text-anchor="middle" font-weight="normal" fill="#000000" stroke="#000000" stroke-width="0.1">5 min</text>
<line x1="385.33" y1="217.4" x2="385.33" y2="388.0" stroke="#f7f7f7" stroke-width="1"/>
<line x1="462.77" y1="217.4" x2="462.77" y2="388.0" stroke="#f7f7f7" stroke-width="1"/>
<line x1="307.9" y1="302.70" x2="540.2" y2="302.70" stroke="#f7f7f7" stroke-width="1"/>
<path d="M307.9 217.4V388.0H540.2" fill="none" stroke="#858585" stroke-width="1.1" stroke-linecap="square"/>
<line x1="307.90" y1="388.0" x2="307.90" y2="384.7" stroke="#858585" stroke-width="1"/>
<line x1="385.33" y1="388.0" x2="385.33" y2="384.7" stroke="#858585" stroke-width="1"/>
<line x1="462.77" y1="388.0" x2="462.77" y2="384.7" stroke="#858585" stroke-width="1"/>
<line x1="540.20" y1="388.0" x2="540.20" y2="384.7" stroke="#858585" stroke-width="1"/>
<line x1="307.9" y1="388.00" x2="311.2" y2="388.00" stroke="#858585" stroke-width="1"/>
<line x1="307.9" y1="302.70" x2="311.2" y2="302.70" stroke="#858585" stroke-width="1"/>
<line x1="307.9" y1="217.40" x2="311.2" y2="217.40" stroke="#858585" stroke-width="1"/>
<path d="M307.70 383.37L303.20 391.17L312.20 391.17ZM307.70 387.65L306.90 389.03L308.50 389.03Z" fill="#ec1c24" fill-rule="evenodd"/>
<path d="M334.17 383.37L329.67 391.17L338.67 391.17ZM334.17 387.65L333.37 389.03L334.97 389.03Z" fill="#ec1c24" fill-rule="evenodd"/>
<path d="M338.25 383.37L333.75 391.17L342.75 391.17ZM338.25 387.65L337.45 389.03L339.05 389.03Z" fill="#ec1c24" fill-rule="evenodd"/>
<path d="M362.07 383.37L357.57 391.17L366.57 391.17ZM362.07 387.65L361.27 389.03L362.87 389.03Z" fill="#ec1c24" fill-rule="evenodd"/>
<path d="M377.40 383.37L372.90 391.17L381.90 391.17ZM377.40 387.65L376.60 389.03L378.20 389.03Z" fill="#ec1c24" fill-rule="evenodd"/>
<path d="M386.18 383.37L381.68 391.17L390.68 391.17ZM386.18 387.65L385.38 389.03L386.98 389.03Z" fill="#ec1c24" fill-rule="evenodd"/>
<path d="M398.65 298.07L394.15 305.87L403.15 305.87ZM398.65 302.35L397.85 303.73L399.45 303.73Z" fill="#ec1c24" fill-rule="evenodd"/>
<path d="M415.52 383.37L411.02 391.17L420.02 391.17ZM415.52 387.65L414.72 389.03L416.32 389.03Z" fill="#ec1c24" fill-rule="evenodd"/>
<path d="M423.39 383.37L418.89 391.17L427.89 391.17ZM423.39 387.65L422.59 389.03L424.19 389.03Z" fill="#ec1c24" fill-rule="evenodd"/>
<path d="M436.67 383.37L432.17 391.17L441.17 391.17ZM436.67 387.65L435.87 389.03L437.47 389.03Z" fill="#ec1c24" fill-rule="evenodd"/>
<path d="M443.62 383.37L439.12 391.17L448.12 391.17ZM443.62 387.65L442.82 389.03L444.42 389.03Z" fill="#ec1c24" fill-rule="evenodd"/>
<path d="M455.27 298.07L450.77 305.87L459.77 305.87ZM455.27 302.35L454.47 303.73L456.07 303.73Z" fill="#ec1c24" fill-rule="evenodd"/>
<path d="M464.98 383.37L460.48 391.17L469.48 391.17ZM464.98 387.65L464.18 389.03L465.78 389.03Z" fill="#ec1c24" fill-rule="evenodd"/>
<path d="M475.81 383.37L471.31 391.17L480.31 391.17ZM475.81 387.65L475.01 389.03L476.61 389.03Z" fill="#ec1c24" fill-rule="evenodd"/>
<path d="M483.27 383.37L478.77 391.17L487.77 391.17ZM483.27 387.65L482.47 389.03L484.07 389.03Z" fill="#ec1c24" fill-rule="evenodd"/>
<path d="M503.31 383.37L498.81 391.17L507.81 391.17ZM503.31 387.65L502.51 389.03L504.11 389.03Z" fill="#ec1c24" fill-rule="evenodd"/>
<path d="M507.50 298.07L503.00 305.87L512.00 305.87ZM507.50 302.35L506.70 303.73L508.30 303.73Z" fill="#ec1c24" fill-rule="evenodd"/>
<path d="M511.18 383.37L506.68 391.17L515.68 391.17ZM511.18 387.65L510.38 389.03L511.98 389.03Z" fill="#ec1c24" fill-rule="evenodd"/>
<path d="M522.83 383.37L518.33 391.17L527.33 391.17ZM522.83 387.65L522.03 389.03L523.63 389.03Z" fill="#ec1c24" fill-rule="evenodd"/>
<path d="M526.20 383.37L521.70 391.17L530.70 391.17ZM526.20 387.65L525.40 389.03L527.00 389.03Z" fill="#ec1c24" fill-rule="evenodd"/>
<circle cx="307.70" cy="388.00" r="2.68" fill="none" stroke="#f7a01b" stroke-width="2.0"/>
<circle cx="334.17" cy="388.00" r="2.68" fill="none" stroke="#f7a01b" stroke-width="2.0"/>
<circle cx="338.25" cy="388.00" r="2.68" fill="none" stroke="#f7a01b" stroke-width="2.0"/>
<circle cx="362.07" cy="388.00" r="2.68" fill="none" stroke="#f7a01b" stroke-width="2.0"/>
<circle cx="377.40" cy="388.00" r="2.68" fill="none" stroke="#f7a01b" stroke-width="2.0"/>
<circle cx="386.18" cy="388.00" r="2.68" fill="none" stroke="#f7a01b" stroke-width="2.0"/>
<circle cx="398.65" cy="388.00" r="2.68" fill="none" stroke="#f7a01b" stroke-width="2.0"/>
<circle cx="415.52" cy="388.00" r="2.68" fill="none" stroke="#f7a01b" stroke-width="2.0"/>
<circle cx="423.39" cy="388.00" r="2.68" fill="none" stroke="#f7a01b" stroke-width="2.0"/>
<circle cx="436.67" cy="388.00" r="2.68" fill="none" stroke="#f7a01b" stroke-width="2.0"/>
<circle cx="443.62" cy="388.00" r="2.68" fill="none" stroke="#f7a01b" stroke-width="2.0"/>
<circle cx="455.27" cy="388.00" r="2.68" fill="none" stroke="#f7a01b" stroke-width="2.0"/>
<circle cx="464.98" cy="388.00" r="2.68" fill="none" stroke="#f7a01b" stroke-width="2.0"/>
<circle cx="475.81" cy="388.00" r="2.68" fill="none" stroke="#f7a01b" stroke-width="2.0"/>
<circle cx="483.27" cy="388.00" r="2.68" fill="none" stroke="#f7a01b" stroke-width="2.0"/>
<circle cx="503.31" cy="388.00" r="2.68" fill="none" stroke="#f7a01b" stroke-width="2.0"/>
<circle cx="507.50" cy="388.00" r="2.68" fill="none" stroke="#f7a01b" stroke-width="2.0"/>
<circle cx="511.18" cy="388.00" r="2.68" fill="none" stroke="#f7a01b" stroke-width="2.0"/>
<circle cx="522.83" cy="388.00" r="2.68" fill="none" stroke="#f7a01b" stroke-width="2.0"/>
<circle cx="526.20" cy="217.40" r="2.68" fill="none" stroke="#f7a01b" stroke-width="2.0"/>
<path d="M307.70 392.40L303.20 384.60L312.20 384.60ZM307.70 388.12L306.90 386.74L308.50 386.74Z" fill="#2d4aa3" fill-rule="evenodd"/>
<path d="M334.17 392.40L329.67 384.60L338.67 384.60ZM334.17 388.12L333.37 386.74L334.97 386.74Z" fill="#2d4aa3" fill-rule="evenodd"/>
<path d="M338.25 392.40L333.75 384.60L342.75 384.60ZM338.25 388.12L337.45 386.74L339.05 386.74Z" fill="#2d4aa3" fill-rule="evenodd"/>
<path d="M362.07 392.40L357.57 384.60L366.57 384.60ZM362.07 388.12L361.27 386.74L362.87 386.74Z" fill="#2d4aa3" fill-rule="evenodd"/>
<path d="M377.40 392.40L372.90 384.60L381.90 384.60ZM377.40 388.12L376.60 386.74L378.20 386.74Z" fill="#2d4aa3" fill-rule="evenodd"/>
<path d="M386.18 392.40L381.68 384.60L390.68 384.60ZM386.18 388.12L385.38 386.74L386.98 386.74Z" fill="#2d4aa3" fill-rule="evenodd"/>
<path d="M398.65 392.40L394.15 384.60L403.15 384.60ZM398.65 388.12L397.85 386.74L399.45 386.74Z" fill="#2d4aa3" fill-rule="evenodd"/>
<path d="M415.52 392.40L411.02 384.60L420.02 384.60ZM415.52 388.12L414.72 386.74L416.32 386.74Z" fill="#2d4aa3" fill-rule="evenodd"/>
<path d="M423.39 392.40L418.89 384.60L427.89 384.60ZM423.39 388.12L422.59 386.74L424.19 386.74Z" fill="#2d4aa3" fill-rule="evenodd"/>
<path d="M436.67 392.40L432.17 384.60L441.17 384.60ZM436.67 388.12L435.87 386.74L437.47 386.74Z" fill="#2d4aa3" fill-rule="evenodd"/>
<path d="M443.62 392.40L439.12 384.60L448.12 384.60ZM443.62 388.12L442.82 386.74L444.42 386.74Z" fill="#2d4aa3" fill-rule="evenodd"/>
<path d="M455.27 392.40L450.77 384.60L459.77 384.60ZM455.27 388.12L454.47 386.74L456.07 386.74Z" fill="#2d4aa3" fill-rule="evenodd"/>
<path d="M464.98 392.40L460.48 384.60L469.48 384.60ZM464.98 388.12L464.18 386.74L465.78 386.74Z" fill="#2d4aa3" fill-rule="evenodd"/>
<path d="M475.81 392.40L471.31 384.60L480.31 384.60ZM475.81 388.12L475.01 386.74L476.61 386.74Z" fill="#2d4aa3" fill-rule="evenodd"/>
<path d="M483.27 392.40L478.77 384.60L487.77 384.60ZM483.27 388.12L482.47 386.74L484.07 386.74Z" fill="#2d4aa3" fill-rule="evenodd"/>
<path d="M503.31 392.40L498.81 384.60L507.81 384.60ZM503.31 388.12L502.51 386.74L504.11 386.74Z" fill="#2d4aa3" fill-rule="evenodd"/>
<path d="M507.50 307.10L503.00 299.30L512.00 299.30ZM507.50 302.82L506.70 301.44L508.30 301.44Z" fill="#2d4aa3" fill-rule="evenodd"/>
<path d="M511.18 392.40L506.68 384.60L515.68 384.60ZM511.18 388.12L510.38 386.74L511.98 386.74Z" fill="#2d4aa3" fill-rule="evenodd"/>
<path d="M522.83 392.40L518.33 384.60L527.33 384.60ZM522.83 388.12L522.03 386.74L523.63 386.74Z" fill="#2d4aa3" fill-rule="evenodd"/>
<path d="M526.20 392.40L521.70 384.60L530.70 384.60ZM526.20 388.12L525.40 386.74L527.00 386.74Z" fill="#2d4aa3" fill-rule="evenodd"/>
<path d="M307.9 217.4H540.2V388.0" fill="none" stroke="#858585" stroke-width="1.1" stroke-linecap="square"/>
<line x1="307.90" y1="217.4" x2="307.90" y2="220.70000000000002" stroke="#858585" stroke-width="1"/>
<line x1="385.33" y1="217.4" x2="385.33" y2="220.70000000000002" stroke="#858585" stroke-width="1"/>
<line x1="462.77" y1="217.4" x2="462.77" y2="220.70000000000002" stroke="#858585" stroke-width="1"/>
<line x1="540.20" y1="217.4" x2="540.20" y2="220.70000000000002" stroke="#858585" stroke-width="1"/>
<line x1="540.2" y1="388.00" x2="536.9000000000001" y2="388.00" stroke="#858585" stroke-width="1"/>
<line x1="540.2" y1="302.70" x2="536.9000000000001" y2="302.70" stroke="#858585" stroke-width="1"/>
<line x1="540.2" y1="217.40" x2="536.9000000000001" y2="217.40" stroke="#858585" stroke-width="1"/>
<text x="308.90" y="400.00" font-size="8.6" text-anchor="middle" font-weight="normal" fill="#000000" stroke="#000000" stroke-width="0.2">0</text>
<text x="386.33" y="400.00" font-size="8.6" text-anchor="middle" font-weight="normal" fill="#000000" stroke="#000000" stroke-width="0.2">10</text>
<text x="463.77" y="400.00" font-size="8.6" text-anchor="middle" font-weight="normal" fill="#000000" stroke="#000000" stroke-width="0.2">20</text>
<text x="541.20" y="400.00" font-size="8.6" text-anchor="middle" font-weight="normal" fill="#000000" stroke="#000000" stroke-width="0.2">30</text>
<text x="303.10" y="391.00" font-size="8.6" text-anchor="end" font-weight="normal" fill="#000000" stroke="#000000" stroke-width="0.2">0</text>
<text x="303.10" y="305.70" font-size="8.6" text-anchor="end" font-weight="normal" fill="#000000" stroke="#000000" stroke-width="0.2">1</text>
<text x="303.10" y="220.40" font-size="8.6" text-anchor="end" font-weight="normal" fill="#000000" stroke="#000000" stroke-width="0.2">2</text>
<text x="424.05" y="413.20" font-size="8.6" text-anchor="middle" font-weight="normal" fill="#000000" stroke="#000000" stroke-width="0.2">Chiral angle (°)</text>
<text x="0" y="0" font-size="8.6" text-anchor="middle" fill="#000000" stroke="#000000" stroke-width="0.2" transform="translate(289.60,302.70) rotate(-90)">Count</text>
<text x="274.50" y="226.00" font-size="16.2" text-anchor="start" font-weight="bold" fill="#1a1a1a" stroke="#1a1a1a" stroke-width="0">(d)</text>
<rect x="312.90" y="220.70" width="65.8" height="25.8" fill="#fff" stroke="#858585" stroke-width="1"/>
<path d="M328.90 221.46L324.45 229.17L333.35 229.17ZM328.90 225.68L328.10 227.06L329.70 227.06Z" fill="#ec1c24" fill-rule="evenodd"/>
<circle cx="328.90" cy="233.90" r="2.8" fill="none" stroke="#f7a01b" stroke-width="2.0"/>
<path d="M328.90 247.24L324.45 239.53L333.35 239.53ZM328.90 243.02L328.10 241.64L329.70 241.64Z" fill="#2d4aa3" fill-rule="evenodd"/>
<text x="358.20" y="228.70" font-size="8.5" text-anchor="middle" font-weight="normal" fill="#000000" stroke="#000000" stroke-width="0.1">14 min</text>
<text x="358.20" y="237.00" font-size="8.5" text-anchor="middle" font-weight="normal" fill="#000000" stroke="#000000" stroke-width="0.1">10 min</text>
<text x="358.20" y="245.30" font-size="8.5" text-anchor="middle" font-weight="normal" fill="#000000" stroke="#000000" stroke-width="0.1">5 min</text>
</svg></body></html>
